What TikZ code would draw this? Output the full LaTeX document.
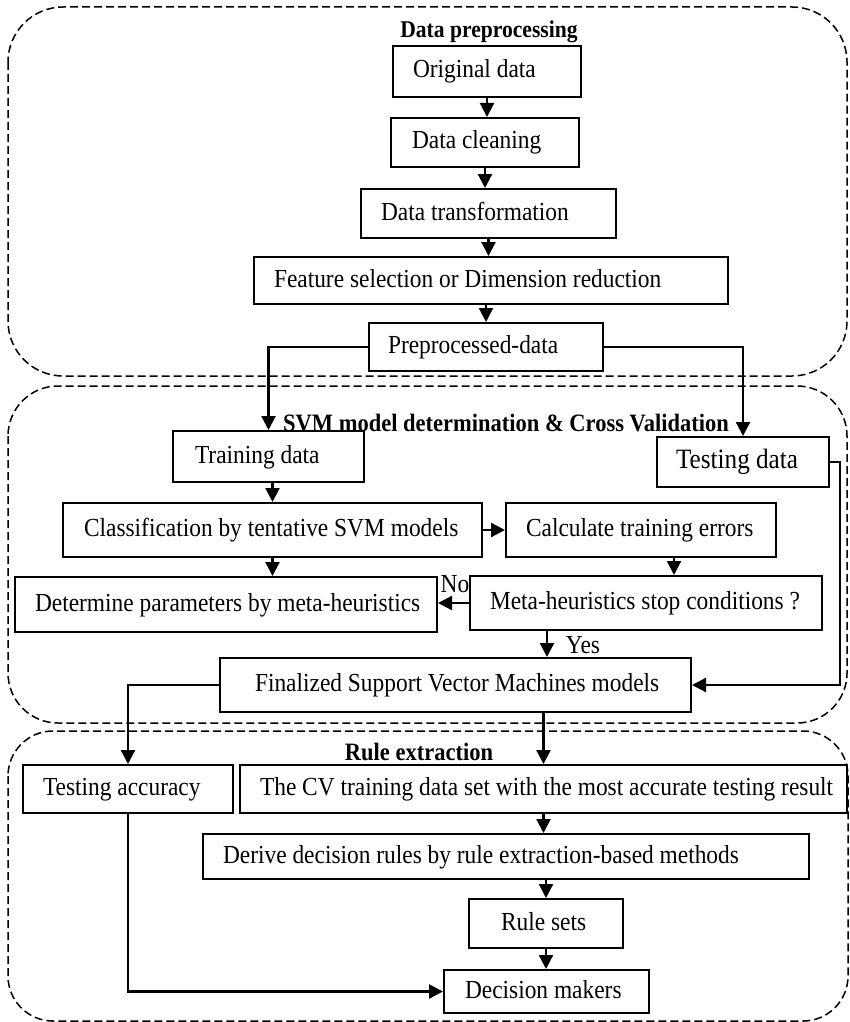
\documentclass[tikz,border=0pt]{standalone}
\usepackage{fontspec}
\setmainfont{Liberation Serif}[FakeStretch=0.9]
\usetikzlibrary{arrows.meta,calc}
\tikzset{
  boxst/.style={draw, line width=2pt, rectangle, inner ysep=0pt, text height=18pt, text depth=5pt, font=\fontsize{26}{28}\selectfont},
  region/.style={draw, line width=1.5pt, dash pattern=on 8pt off 4pt},
  arr/.style={line width=2.2pt, -{Triangle[length=14pt,width=14pt]}},
  ttl/.style={font=\fontsize{25}{27}\selectfont\bfseries, inner sep=0pt},
  lbl/.style={font=\fontsize{26}{28}\selectfont, inner sep=0pt}
}
\newcommand\mybox[7]{%
  \pgfmathsetmacro\bw{#4-#2}\pgfmathsetmacro\bh{#5-#3}\pgfmathsetmacro\bp{#6-#2}%
  \pgfmathsetmacro\bt{\bw-2*\bp}\pgfmathsetmacro\cx{(#2+#4)/2}\pgfmathsetmacro\cy{(#3+#5)/2}%
  \node[boxst, inner xsep=\bp pt, minimum height=\bh pt] (#1) at (\cx,\cy) {\makebox[\bt pt][l]{#7}};}
\begin{document}
\begin{tikzpicture}[x=1pt,y=-1pt]
\useasboundingbox (0,0) rectangle (850,1022);
% regions
\draw[region, rounded corners=55pt] (8,7) rectangle (847,376);
\draw[region, rounded corners=50pt] (8,386) rectangle (847,723);
\draw[region, rounded corners=45pt] (8,731) rectangle (848,1021);
% titles
\node[ttl, font=\fontsize{24}{26}\selectfont\bfseries] (t1) at (489,32) {Data preprocessing};
\node[ttl] (t2) at (506,423) {SVM model determination \& Cross Validation};
\node[ttl] (t3) at (419,752) {Rule extraction};
% boxes
\mybox{orig}{393}{46}{581}{97}{413}{Original data}
\mybox{clean}{391}{118}{579}{167}{412}{Data cleaning}
\mybox{trans}{361}{189}{616}{238}{381}{Data transformation}
\mybox{feat}{254}{257}{728}{304}{274}{Feature selection or Dimension reduction}
\mybox{pre}{369}{323}{603}{371}{388}{Preprocessed-data}
\mybox{train}{173}{431}{364}{482}{195}{Training data}
\mybox{test}{657}{437}{829}{487}{676}{\fontsize{28}{30}\selectfont Testing data}
\mybox{class}{63}{503}{482}{557}{84}{Classification by tentative SVM models}
\mybox{calc}{506}{503}{776}{557}{526}{Calculate training errors}
\mybox{det}{15}{577}{437}{632}{35}{Determine parameters by meta-heuristics}
\mybox{meta}{470}{576}{822}{630}{490}{Meta-heuristics stop conditions ?}
\mybox{fin}{220}{658}{691}{712}{255}{Finalized Support Vector Machines models}
\mybox{tacc}{23}{765}{233}{813}{43}{Testing accuracy}
\mybox{cv}{240}{765}{847}{813}{260}{The CV training data set with the most accurate testing result}
\mybox{derive}{203}{834}{809}{879}{223}{Derive decision rules by rule extraction-based methods}
\mybox{rules}{469}{899}{623}{948}{501}{Rule sets}
\mybox{dec}{444}{970}{649}{1013}{465}{Decision makers}
% labels
\node[lbl] (no) at (455,584) {No};
\node[lbl] (yes) at (583,645) {Yes};
% connectors
\draw[arr] (orig.south) -- (orig.south |- clean.north);
\draw[arr] (clean.south) -- (clean.south |- trans.north);
\draw[arr] (trans.south) -- (trans.south |- feat.north);
\draw[arr] (pre.north |- feat.south) -- (pre.north);
\draw[arr] (pre.west) -| (train.north);
\draw[arr] (pre.east) -| (test.north);
\draw[arr] (train.south -| class.north) -- (class.north);
\draw[arr] (class.east) -- (calc.west);
\draw[arr] (class.south) -- (class.south |- det.north);
\draw[arr] ([xshift=33pt]calc.south) -- ([xshift=33pt]calc.south |- meta.north);
\draw[arr] (meta.west) -- (meta.west -| det.east);
\draw[arr] ([xshift=-99pt]meta.south) -- ([xshift=-99pt]meta.south |- fin.north);
\draw[arr] (test.east) -- ++(10,0) |- (fin.east);
\draw[arr] (fin.west) -| (tacc.north);
\draw[arr] (fin.south -| cv.north) -- (cv.north);
\draw[arr] (cv.south) -- (cv.south |- derive.north);
\draw[arr] (derive.south -| rules.north) -- (rules.north);
\draw[arr] (rules.south) -- (rules.south |- dec.north);
\draw[arr] (tacc.south) |- (dec.west);
\end{tikzpicture}
\end{document}
